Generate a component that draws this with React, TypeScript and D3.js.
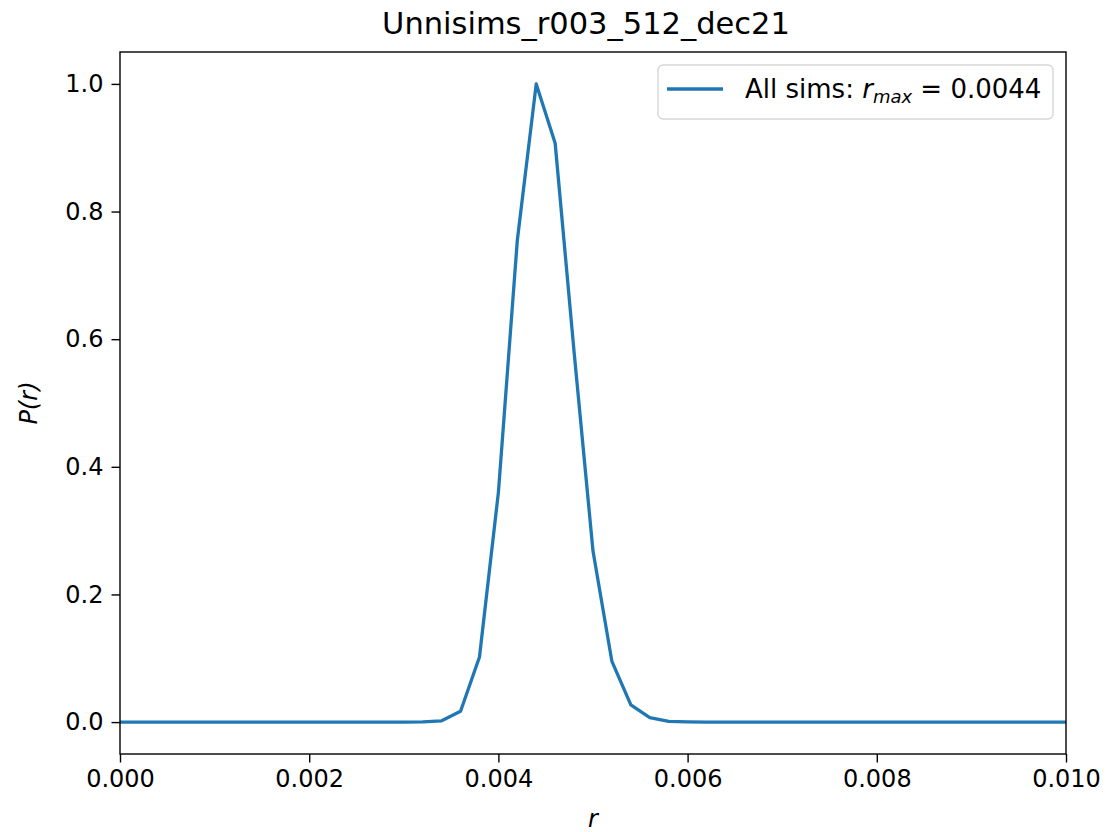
import React, { useEffect, useRef } from 'react'
import * as d3 from 'd3'

// bin positions of r and the normalised distribution P(r)
const rBins = [
  0, 0.0002, 0.0004, 0.0006, 0.0008, 0.001, 0.0012, 0.0014, 0.0016, 0.0018,
  0.002, 0.0022, 0.0024, 0.0026, 0.0028, 0.003, 0.0032, 0.0034, 0.0036, 0.0038,
  0.004, 0.0042, 0.0044, 0.0046, 0.0048, 0.005, 0.0052, 0.0054, 0.0056, 0.0058,
  0.006, 0.0062, 0.0064, 0.0066, 0.0068, 0.007, 0.0072, 0.0074, 0.0076, 0.0078,
  0.008, 0.0082, 0.0084, 0.0086, 0.0088, 0.009, 0.0092, 0.0094, 0.0096, 0.0098,
  0.01
]
const pValues = [
  0, 0, 0, 0, 0, 0, 0, 0, 0, 0,
  0, 0, 0, 0, 0, 0, 0.0003, 0.002, 0.017, 0.102,
  0.36, 0.755, 1.0, 0.907, 0.58, 0.268, 0.095, 0.027, 0.007, 0.001,
  0.0002, 0, 0, 0, 0, 0, 0, 0, 0, 0,
  0, 0, 0, 0, 0, 0, 0, 0, 0, 0,
  0
]
const xTicks = [0, 0.002, 0.004, 0.006, 0.008, 0.01]
const yTicks = [0, 0.2, 0.4, 0.6, 0.8, 1.0]

const title = 'Unnisims_r003_512_dec21'
const font = 'DejaVu Sans, sans-serif'

export default function App() {
  const ref = useRef<SVGSVGElement>(null)

  useEffect(() => {
    document.body.style.margin = '0'
    const svg = d3.select(ref.current)
    svg.selectAll('*').remove()

    const left = 120
    const right = 1066
    const top = 52
    const bottom = 754

    const x = d3.scaleLinear().domain([0, 0.01]).range([left, right])
    const y = d3.scaleLinear().domain([-0.05, 1.05]).range([bottom, top])

    svg.append('rect').attr('width', 1107).attr('height', 832).attr('fill', '#fff')

    svg
      .append('defs')
      .append('clipPath')
      .attr('id', 'plot-clip')
      .append('rect')
      .attr('x', left)
      .attr('y', top)
      .attr('width', right - left)
      .attr('height', bottom - top)

    const data = rBins.map((r, i) => [r, pValues[i]] as [number, number])
    const line = d3
      .line<[number, number]>()
      .x(d => x(d[0]))
      .y(d => y(d[1]))

    svg
      .append('path')
      .datum(data)
      .attr('clip-path', 'url(#plot-clip)')
      .attr('fill', 'none')
      .attr('stroke', '#1f77b4')
      .attr('stroke-width', 3.3)
      .attr('stroke-linejoin', 'round')
      .attr('stroke-linecap', 'square')
      .attr('d', line)

    // axes
    const xAxis = svg
      .append('g')
      .attr('transform', `translate(0, ${bottom})`)
      .call(
        d3
          .axisBottom(x)
          .tickValues(xTicks)
          .tickFormat(d3.format('.3f'))
          .tickSizeInner(8.5)
          .tickSizeOuter(0)
          .tickPadding(7)
      )
    const yAxis = svg
      .append('g')
      .attr('transform', `translate(${left}, 0)`)
      .call(
        d3
          .axisLeft(y)
          .tickValues(yTicks)
          .tickFormat(d3.format('.1f'))
          .tickSizeInner(8.5)
          .tickSizeOuter(0)
          .tickPadding(8)
      )
    for (const g of [xAxis, yAxis]) {
      g.select('.domain').remove()
      g.selectAll('line').attr('stroke', '#000').attr('stroke-width', 1.4)
      g.selectAll('text')
        .attr('fill', '#000')
        .attr('font-family', font)
        .attr('font-size', 24)
    }

    svg
      .append('rect')
      .attr('x', left)
      .attr('y', top)
      .attr('width', right - left)
      .attr('height', bottom - top)
      .attr('fill', 'none')
      .attr('stroke', '#000')
      .attr('stroke-width', 1.4)

    // title and labels
    svg
      .append('text')
      .attr('x', 586)
      .attr('y', 34)
      .attr('text-anchor', 'middle')
      .attr('font-family', font)
      .attr('font-size', 30.5)
      .attr('fill', '#000')
      .text(title)

    svg
      .append('text')
      .attr('x', (left + right) / 2)
      .attr('y', 827)
      .attr('text-anchor', 'middle')
      .attr('font-family', font)
      .attr('font-style', 'italic')
      .attr('font-size', 24)
      .attr('fill', '#000')
      .text('r')

    svg
      .append('text')
      .attr('transform', `translate(37, ${(top + bottom) / 2}) rotate(-90)`)
      .attr('text-anchor', 'middle')
      .attr('font-family', font)
      .attr('font-style', 'italic')
      .attr('font-size', 24)
      .attr('fill', '#000')
      .text('P(r)')

    // legend
    const lg = svg.append('g')
    lg.append('rect')
      .attr('x', 658)
      .attr('y', 65)
      .attr('width', 395)
      .attr('height', 54)
      .attr('rx', 5)
      .attr('fill', '#fff')
      .attr('fill-opacity', 0.8)
      .attr('stroke', '#d6d6d6')
      .attr('stroke-width', 1.4)
    lg.append('line')
      .attr('x1', 667)
      .attr('x2', 723)
      .attr('y1', 89)
      .attr('y2', 89)
      .attr('stroke', '#1f77b4')
      .attr('stroke-width', 3.3)
    const lt = lg
      .append('text')
      .attr('x', 745)
      .attr('y', 98)
      .attr('font-family', font)
      .attr('font-size', 26)
      .attr('fill', '#000')
    lt.append('tspan').text('All sims: ')
    lt.append('tspan').attr('font-style', 'italic').text('r')
    lt.append('tspan')
      .attr('font-style', 'italic')
      .attr('font-size', 18)
      .attr('dy', 5)
      .text('max')
    lt.append('tspan').attr('dy', -5).text(' = 0.0044')
  }, [])

  return <svg ref={ref} width={1107} height={832} style={{ display: 'block' }} />
}
